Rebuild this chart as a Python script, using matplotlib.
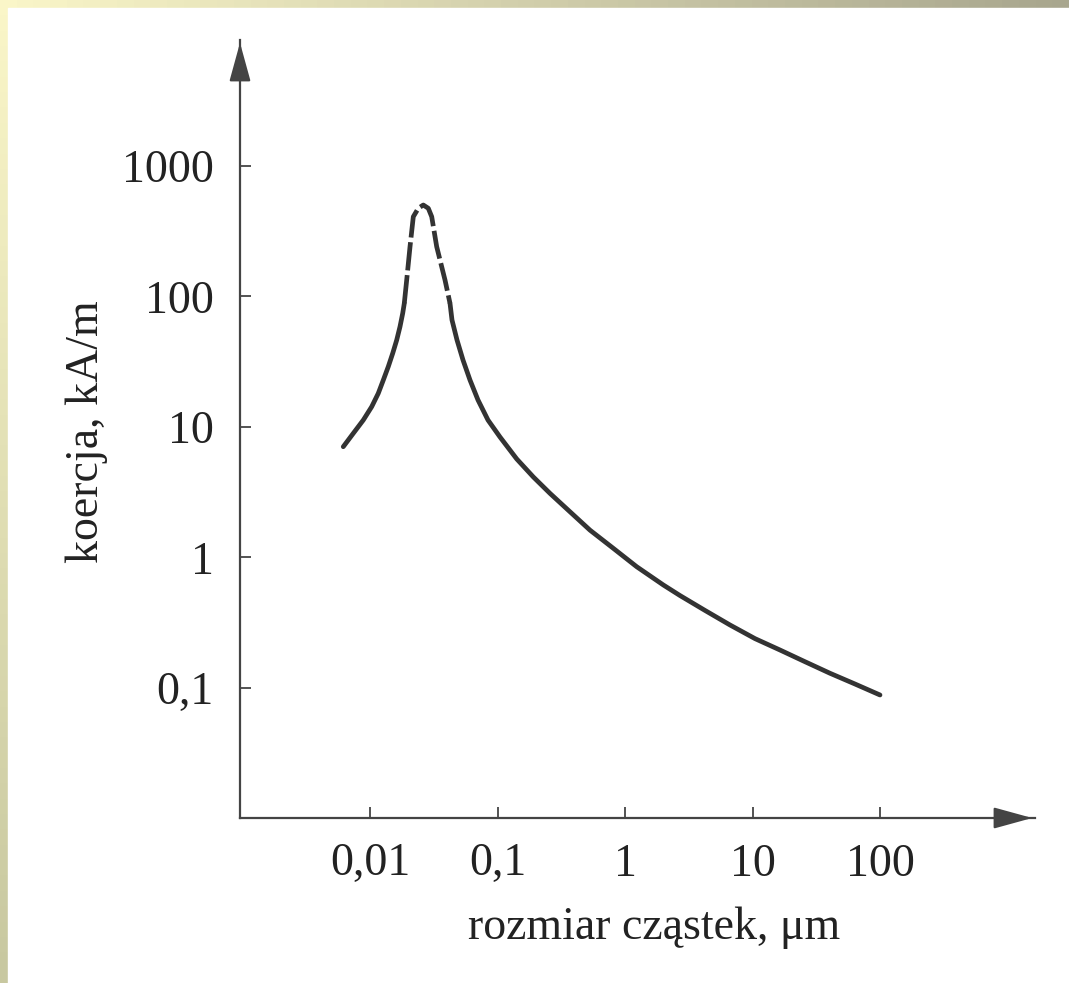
import numpy as np
import matplotlib
matplotlib.use("Agg")
import matplotlib.pyplot as plt
from matplotlib.patches import Rectangle

# curve (particle size in um, coercivity in kA/m)
left_x = [0.00617, 0.00740, 0.00886, 0.01031, 0.01161, 0.01272, 0.01391,
          0.01507, 0.01620, 0.01719, 0.01805, 0.01858]
left_y = [7.06, 8.95, 11.3, 14.3, 18.1, 22.9, 29.0, 36.7, 46.4, 58.7, 74.3, 88.7]

# dashed part around the maximum
peak_x = [0.01858, 0.01940, 0.02060, 0.02186, 0.02392, 0.02618, 0.02866,
          0.03048, 0.03335, 0.03875, 0.04241]
peak_y = [88.7, 133.8, 240.8, 408.8, 474.2, 502.5, 474.2, 408.8, 240.8, 133.8, 88.7]

right_x = [0.04241, 0.04396, 0.04813, 0.05363, 0.06085, 0.07031, 0.08423, 0.1046,
           0.1415, 0.1910, 0.2581, 0.3704, 0.5315, 0.8096, 1.235, 1.997, 2.700,
           4.241, 6.661, 10.46, 16.43, 25.81, 40.53, 63.66, 100]
right_y = [88.7, 66.1, 46.4, 32.6, 22.9, 16.1, 11.3, 8.38, 5.69, 4.14, 3.10, 2.24,
           1.62, 1.176, 0.850, 0.616, 0.511, 0.393, 0.304, 0.239, 0.1955, 0.159,
           0.1297, 0.1073, 0.0884]

x_ticks = [0.01, 0.1, 1, 10, 100]
x_labels = ["0,01", "0,1", "1", "10", "100"]
y_ticks = [0.1, 1, 10, 100, 1000]
y_labels = ["0,1", "1", "10", "100", "1000"]

plt.rcParams['font.family'] = ['Liberation Serif', 'DejaVu Serif']

W, H = 1069, 983
fig = plt.figure(figsize=(W / 100, H / 100), dpi=100)

# yellowish frame on top and left edges
bg = fig.add_axes([0, 0, 1, 1], zorder=-10)
gx, gy = np.meshgrid(np.linspace(0, 1, 64), np.linspace(0, 1, 64))
tl = np.array([250, 246, 200]) / 255
tr = np.array([168, 166, 142]) / 255
bl = np.array([200, 200, 160]) / 255
grad = tl + (tr - tl) * gx[..., None] + (bl - tl) * gy[..., None]
bg.imshow(np.clip(grad, 0, 1), extent=[0, 1, 0, 1], aspect='auto', origin='upper')
bg.add_patch(Rectangle((8 / W, 0), 1, 1 - 8 / H, color='white', transform=bg.transAxes))
bg.axis('off')

ax = fig.add_axes([240 / W, 165 / H, 795 / W, 778 / H])
ax.set_facecolor('none')
ax.set_xscale('log')
ax.set_yscale('log')
ax.set_xlim(10 ** (-2 - 130 / 127.5), 10 ** (-2 + 665 / 127.5))
ax.set_ylim(10 ** (3 - 652 / 130.5), 10 ** (3 + 126 / 130.5))

lc = '#333333'
ax.plot(left_x, left_y, color=lc, lw=3.4, solid_capstyle='round', solid_joinstyle='round')
ax.plot(right_x, right_y, color=lc, lw=3.4, solid_capstyle='round', solid_joinstyle='round')
ax.plot(peak_x, peak_y, color=lc, lw=3.4, dashes=(6, 1), dash_joinstyle='round')

for s in ['top', 'right']:
    ax.spines[s].set_visible(False)
for s in ['left', 'bottom']:
    ax.spines[s].set_color('#444444')
    ax.spines[s].set_linewidth(1.6)

# arrow heads on the axes
ax.annotate('', xy=(0, 1), xytext=(0, 0.95), xycoords='axes fraction',
            arrowprops=dict(arrowstyle='-|>,head_length=1.2,head_width=0.33',
                            mutation_scale=20, color='#444444', lw=1.6))
ax.annotate('', xy=(1, 0), xytext=(0.95, 0), xycoords='axes fraction',
            arrowprops=dict(arrowstyle='-|>,head_length=1.2,head_width=0.33',
                            mutation_scale=20, color='#444444', lw=1.6))

ax.minorticks_off()
ax.set_xticks(x_ticks)
ax.set_xticklabels(x_labels)
ax.set_yticks(y_ticks)
ax.set_yticklabels(y_labels)
ax.tick_params(axis='both', direction='in', length=8, width=1.3, color='#444444',
               labelsize=33, labelcolor='#222222')
ax.tick_params(axis='x', pad=18)
ax.tick_params(axis='y', pad=19)

fig.text(654 / W, 1 - 928 / H, "rozmiar cząstek, μm", fontsize=33,
         color='#222222', ha='center', va='center')
fig.text(87 / W, 1 - 432 / H, "koercja, kA/m", fontsize=33, color='#222222',
         ha='center', va='center', rotation=90)

fig.savefig('out.png', dpi=100)
